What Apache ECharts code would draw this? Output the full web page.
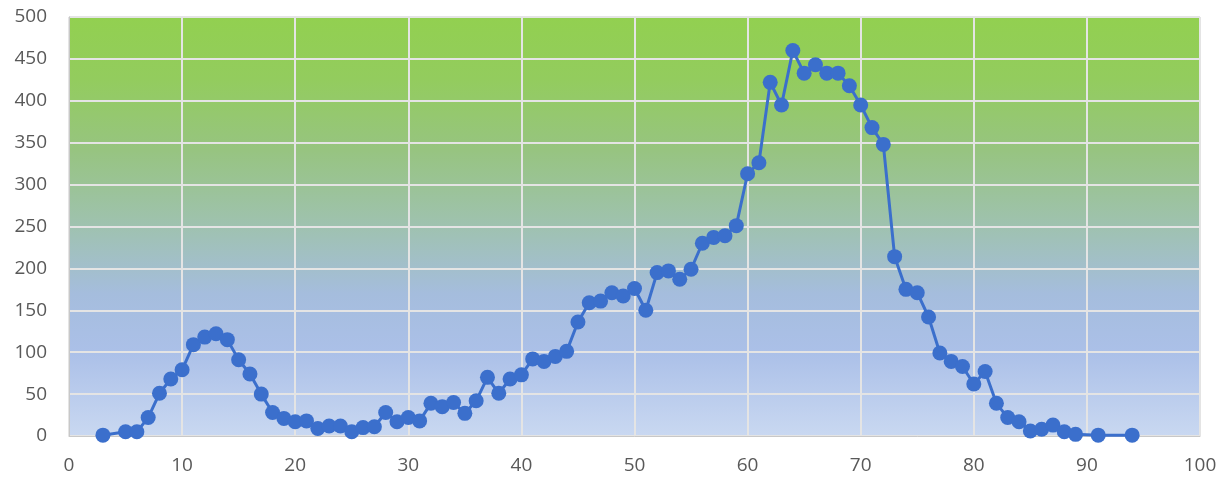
<!DOCTYPE html>
<html>
<head>
<meta charset="utf-8">
<script src="https://cdn.jsdelivr.net/npm/echarts@6/dist/echarts.min.js"></script>
<style>
html,body{margin:0;padding:0;background:#fff;}
#chart{width:1232px;height:485px;}
</style>
</head>
<body>
<div id="chart"></div>
<script>
const xValues = [3,5,6,7,8,9,10,11,12,13,14,15,16,17,18,19,20,21,22,23,24,25,26,27,28,29,30,31,32,33,34,35,36,37,38,39,40,41,42,43,44,45,46,47,48,49,50,51,52,53,54,55,56,57,58,59,60,61,62,63,64,65,66,67,68,69,70,71,72,73,74,75,76,77,78,79,80,81,82,83,84,85,86,87,88,89,91,94];
const yValues = [1,5,5,22,51,68,79,109,118,122,115,91,74,50,28,21,17,18,9,12,12,5,10,11,28,17,22,18,39,35,40,27,42,70,51,68,73,92,89,95,101,136,159,161,171,167,176,150,195,197,187,199,230,237,239,251,313,326,422,395,460,433,443,433,433,418,395,368,348,214,175,171,142,99,89,83,62,77,39,22,17,6,8,13,5,2,1,1];
const xTicks = {min:0, max:100, interval:10};
const yTicks = {min:0, max:500, interval:50};

const chart = echarts.init(document.getElementById('chart'));
const data = xValues.map((x,i)=>[x,yValues[i]]);
chart.setOption({
  animation:false,
  grid:{left:69,right:32,top:17,bottom:49,show:true,borderWidth:0,
    backgroundColor:{type:'linear',x:0,y:0,x2:0,y2:1,colorStops:[
      {offset:0,color:'#92d050'},
      {offset:0.15,color:'#93cc5e'},
      {offset:0.32,color:'#97c481'},
      {offset:0.5,color:'#9fc2b0'},
      {offset:0.66,color:'#a5bddd'},
      {offset:0.8,color:'#abc0e8'},
      {offset:1,color:'#c9d8f1'}
    ]}},
  xAxis:{type:'value',min:xTicks.min,max:xTicks.max,interval:xTicks.interval,
    axisLine:{show:true,lineStyle:{color:'#c8c8c8',width:1}},
    axisTick:{show:false},
    axisLabel:{color:'#595959',fontSize:19,fontFamily:'Open Sans',margin:20},
    splitLine:{show:true,lineStyle:{color:'#e4e4e4',width:2}}},
  yAxis:{type:'value',min:yTicks.min,max:yTicks.max,interval:yTicks.interval,
    axisLine:{show:true,lineStyle:{color:'#c8c8c8',width:1}},
    axisTick:{show:false},
    axisLabel:{color:'#595959',fontSize:19,fontFamily:'Open Sans',margin:22},
    splitLine:{show:true,lineStyle:{color:'#e4e4e4',width:2}}},
  series:[{type:'line',data:data,symbol:'circle',symbolSize:15,
    lineStyle:{color:'#3b6fcc',width:3},
    itemStyle:{color:'#3b6fcc'}}]
});
</script>
</body>
</html>
